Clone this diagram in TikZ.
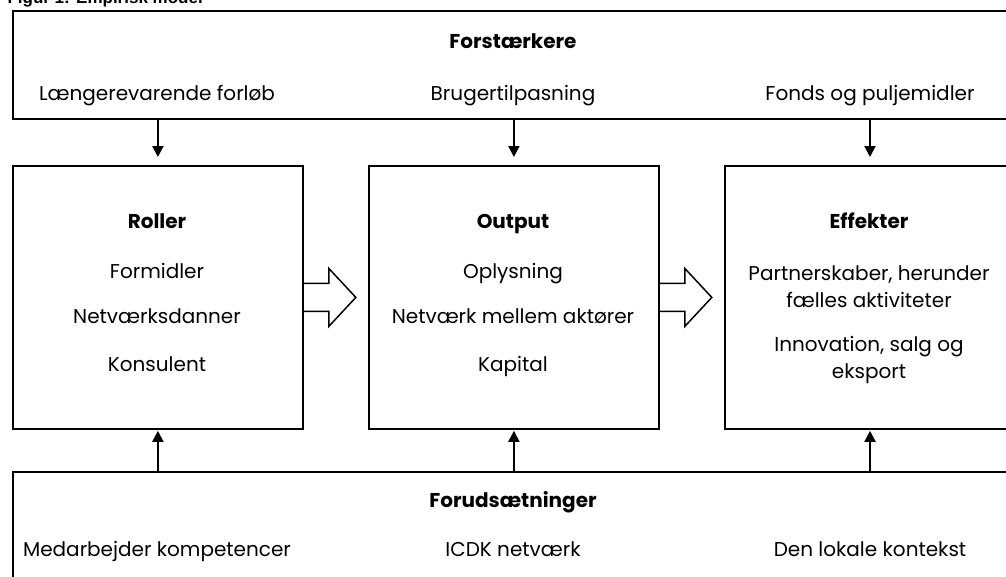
\documentclass[tikz,border=0pt]{standalone}
\usepackage{fontspec}
\setmainfont{Poppins}
\newfontfamily\titlefont{Liberation Sans}
\usetikzlibrary{arrows.meta}

\begin{document}
\begin{tikzpicture}[x=1pt, y=-1pt,
    frame/.style={rectangle, draw=black, line width=1.8pt, anchor=north west, inner sep=0pt},
    box/.style={frame, minimum width=290pt, minimum height=263pt},
    head/.style={font=\bfseries\fontsize{20}{24}\selectfont, text height=15pt, text depth=5pt},
    lbltwo/.style={font=\fontsize{20}{27}\selectfont, align=center},
    lbl/.style={lbltwo, text height=15pt, text depth=5pt},
    feed/.style={-{Triangle[length=11pt, width=11pt]}, line width=2pt},
    blockarr/.style={line width=1.5pt, line join=miter},
]
\useasboundingbox (0,0) rectangle (1006,576);

\node[anchor=base west, font=\titlefont\bfseries\fontsize{17}{20}\selectfont] (titel) at (4,3) {Figur 1: Empirisk model};

% rammer
\node[frame, minimum width=1012pt, minimum height=108pt] (top) at (12,10) {};
\node[box] (roller) at (12,165) {};
\node[box] (output) at (368,165) {};
\node[box] (effekter) at (724,165) {};
\node[frame, minimum width=1012pt, minimum height=130pt] (bund) at (12,471) {};

% forstaerkere
\node[head] (forst) at (513,43) {Forstærkere};
\node[lbl] (laeng) at (157,95) {Længerevarende forløb};
\node[lbl] (bruger) at (513,95) {Brugertilpasning};
\node[lbl] (fonds) at (870,95) {Fonds og puljemidler};

% roller
\node[head] (rollerhead) at (157,223) {Roller};
\node[lbl] (formid) at (157,273) {Formidler};
\node[lbl] (netdan) at (157,318) {Netværksdanner};
\node[lbl] (konsul) at (157,366) {Konsulent};

% output
\node[head] (outhead) at (513,223) {Output};
\node[lbl] (oplys) at (513,273) {Oplysning};
\node[lbl] (netakt) at (513,318) {Netværk mellem aktører};
\node[lbl] (kapital) at (513,366) {Kapital};

% effekter
\node[head] (effhead) at (869,223) {Effekter};
\node[lbltwo] (partner) at (869,287) {Partnerskaber, herunder\\fælles aktiviteter};
\node[lbltwo] (innov) at (869,360) {Innovation, salg og\\eksport};

% forudsaetninger
\node[head] (forud) at (513,502) {Forudsætninger};
\node[lbl] (medarb) at (157,551) {Medarbejder kompetencer};
\node[lbl] (icdk) at (513,551) {ICDK netværk};
\node[lbl] (lokal) at (870,551) {Den lokale kontekst};

% pile
\draw[feed, shorten >=8pt] (top.south -| roller.north) -- (roller.north);
\draw[feed, shorten >=8pt] (top.south -| output.north) -- (output.north);
\draw[feed, shorten >=8pt] (top.south -| fonds) -- (fonds |- effekter.north);
\draw[feed, shorten >=1pt] (bund.north -| roller.south) -- (roller.south);
\draw[feed, shorten >=1pt] (bund.north -| output.south) -- (output.south);
\draw[feed, shorten >=1pt] (bund.north -| fonds) -- (fonds |- effekter.south);

\draw[blockarr] ([yshift=14pt]roller.east) -- ++(25,0) -- ++(0,-15) -- ++(27,29) -- ++(-27,29) -- ++(0,-15) -- ++(-25,0);
\draw[blockarr] ([yshift=14pt]output.east) -- ++(25,0) -- ++(0,-15) -- ++(27,29) -- ++(-27,29) -- ++(0,-15) -- ++(-25,0);
\end{tikzpicture}
\end{document}
